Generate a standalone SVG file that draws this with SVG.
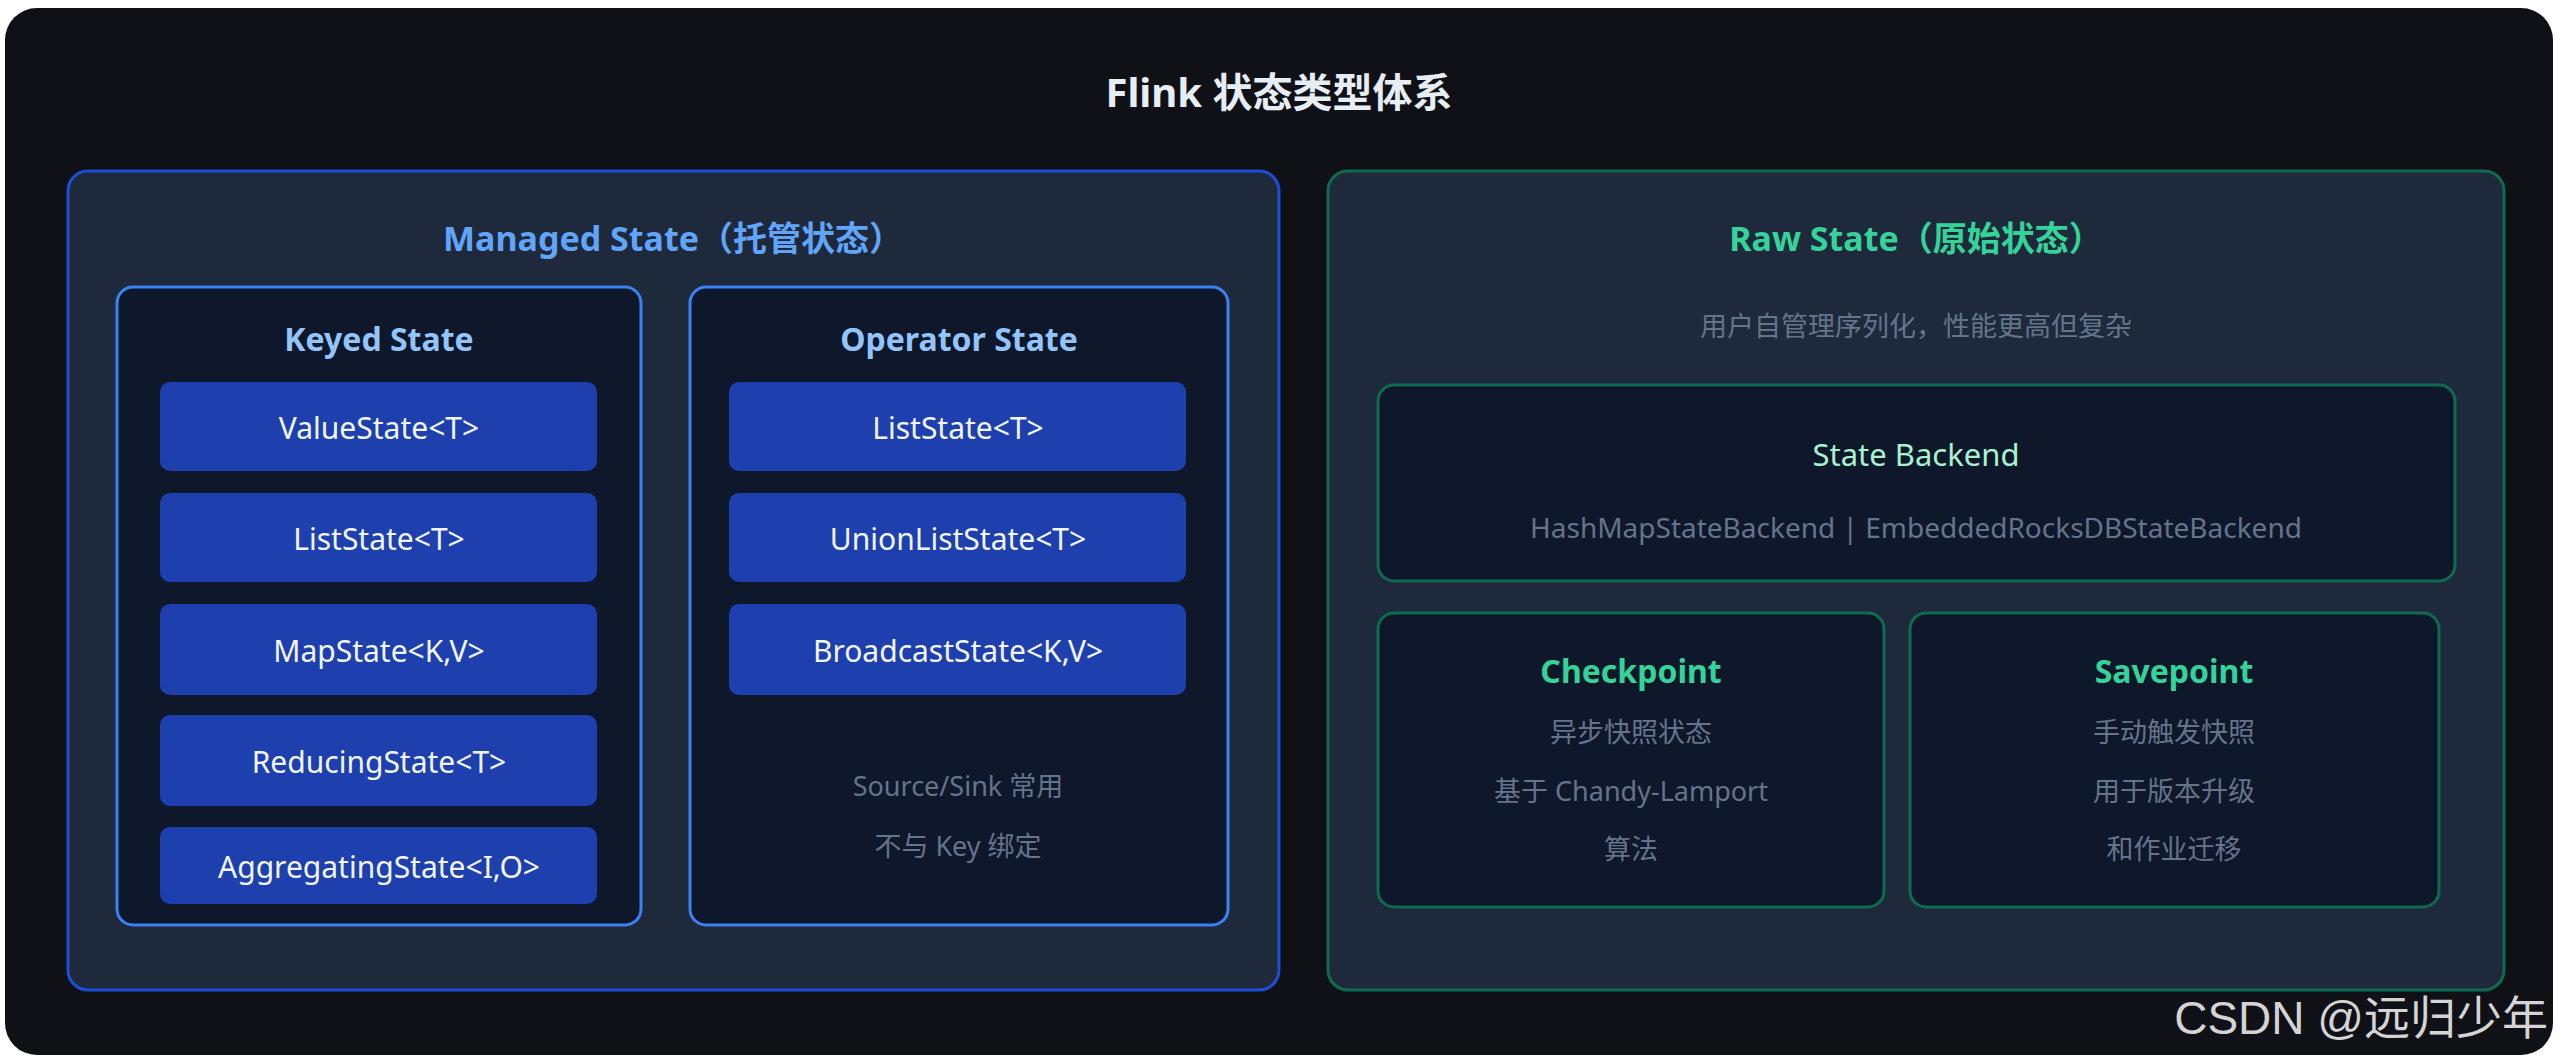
<svg xmlns="http://www.w3.org/2000/svg" width="2558" height="1060" viewBox="0 0 2558 1060">
<style>
text{font-family:"Noto Sans","Noto Sans CJK SC",sans-serif;text-anchor:middle;dominant-baseline:central}
.item{fill:#1e40af}
.it{fill:#f1f5f9;font-size:30px}
.sub{fill:#64748b;font-size:27px}
.inner{fill:#0f172a;stroke:#3b82f6;stroke-width:3}
.ginner{fill:#0f172a;stroke:#0f6b4f;stroke-width:3}
.ht{fill:#93c5fd;font-size:32px;font-weight:bold}
.gt{fill:#34d399;font-size:32px;font-weight:bold}
</style>
<rect width="2558" height="1060" fill="#ffffff"/>
<rect x="5" y="8" width="2548" height="1047" rx="32" fill="#0f1117"/>
<text x="1279" y="91" fill="#e6edf3" font-size="40" font-weight="bold">Flink 状态类型体系</text>
<g id="managed">
<rect x="68" y="171" width="1211" height="819" rx="20" fill="#1e293b" stroke="#1d4ed8" stroke-width="3"/>
<text x="673" y="238" fill="#60a5fa" font-size="34" font-weight="bold">Managed State（托管状态）</text>
</g>
<g id="keyed">
<rect class="inner" x="117" y="287" width="524" height="638" rx="16"/>
<text class="ht" x="379" y="338">Keyed State</text>
<rect class="item" x="160" y="382" width="437" height="89" rx="10"/><text class="it" x="379" y="427">ValueState&lt;T&gt;</text>
<rect class="item" x="160" y="493" width="437" height="89" rx="10"/><text class="it" x="379" y="538">ListState&lt;T&gt;</text>
<rect class="item" x="160" y="604" width="437" height="91" rx="10"/><text class="it" x="379" y="650">MapState&lt;K,V&gt;</text>
<rect class="item" x="160" y="715" width="437" height="91" rx="10"/><text class="it" x="379" y="761">ReducingState&lt;T&gt;</text>
<rect class="item" x="160" y="827" width="437" height="77" rx="10"/><text class="it" x="379" y="866">AggregatingState&lt;I,O&gt;</text>
</g>
<g id="operator">
<rect class="inner" x="690" y="287" width="538" height="638" rx="16"/>
<text class="ht" x="959" y="338">Operator State</text>
<rect class="item" x="729" y="382" width="457" height="89" rx="10"/><text class="it" x="958" y="427">ListState&lt;T&gt;</text>
<rect class="item" x="729" y="493" width="457" height="89" rx="10"/><text class="it" x="958" y="538">UnionListState&lt;T&gt;</text>
<rect class="item" x="729" y="604" width="457" height="91" rx="10"/><text class="it" x="958" y="650">BroadcastState&lt;K,V&gt;</text>
<text class="sub" x="958" y="785">Source/Sink 常用</text>
<text class="sub" x="958" y="845">不与 Key 绑定</text>
</g>
<g id="raw">
<rect x="1328" y="171" width="1176" height="819" rx="20" fill="#1e293b" stroke="#0f6b4f" stroke-width="3"/>
<text x="1916" y="238" fill="#34d399" font-size="34" font-weight="bold">Raw State（原始状态）</text>
<text class="sub" x="1916" y="325">用户自管理序列化，性能更高但复杂</text>
</g>
<g id="backend">
<rect class="ginner" x="1378" y="385" width="1077" height="196" rx="16"/>
<text x="1916" y="454" fill="#a7f3d0" font-size="31">State Backend</text>
<text x="1916" y="527" fill="#64748b" font-size="28">HashMapStateBackend | EmbeddedRocksDBStateBackend</text>
</g>
<g id="checkpoint">
<rect class="ginner" x="1378" y="613" width="506" height="294" rx="16"/>
<text class="gt" x="1631" y="670">Checkpoint</text>
<text class="sub" x="1631" y="731">异步快照状态</text>
<text class="sub" x="1631" y="790">基于 Chandy-Lamport</text>
<text class="sub" x="1631" y="848">算法</text>
</g>
<g id="savepoint">
<rect class="ginner" x="1910" y="613" width="529" height="294" rx="16"/>
<text class="gt" x="2174" y="670">Savepoint</text>
<text class="sub" x="2174" y="731">手动触发快照</text>
<text class="sub" x="2174" y="790">用于版本升级</text>
<text class="sub" x="2174" y="848">和作业迁移</text>
</g>
<g id="connectors"></g>
<text x="2548" y="1018" fill="#d4d4d4" font-size="46" style="text-anchor:end;font-family:'Liberation Sans','Noto Sans CJK SC',sans-serif">CSDN @远归少年</text>
</svg>
